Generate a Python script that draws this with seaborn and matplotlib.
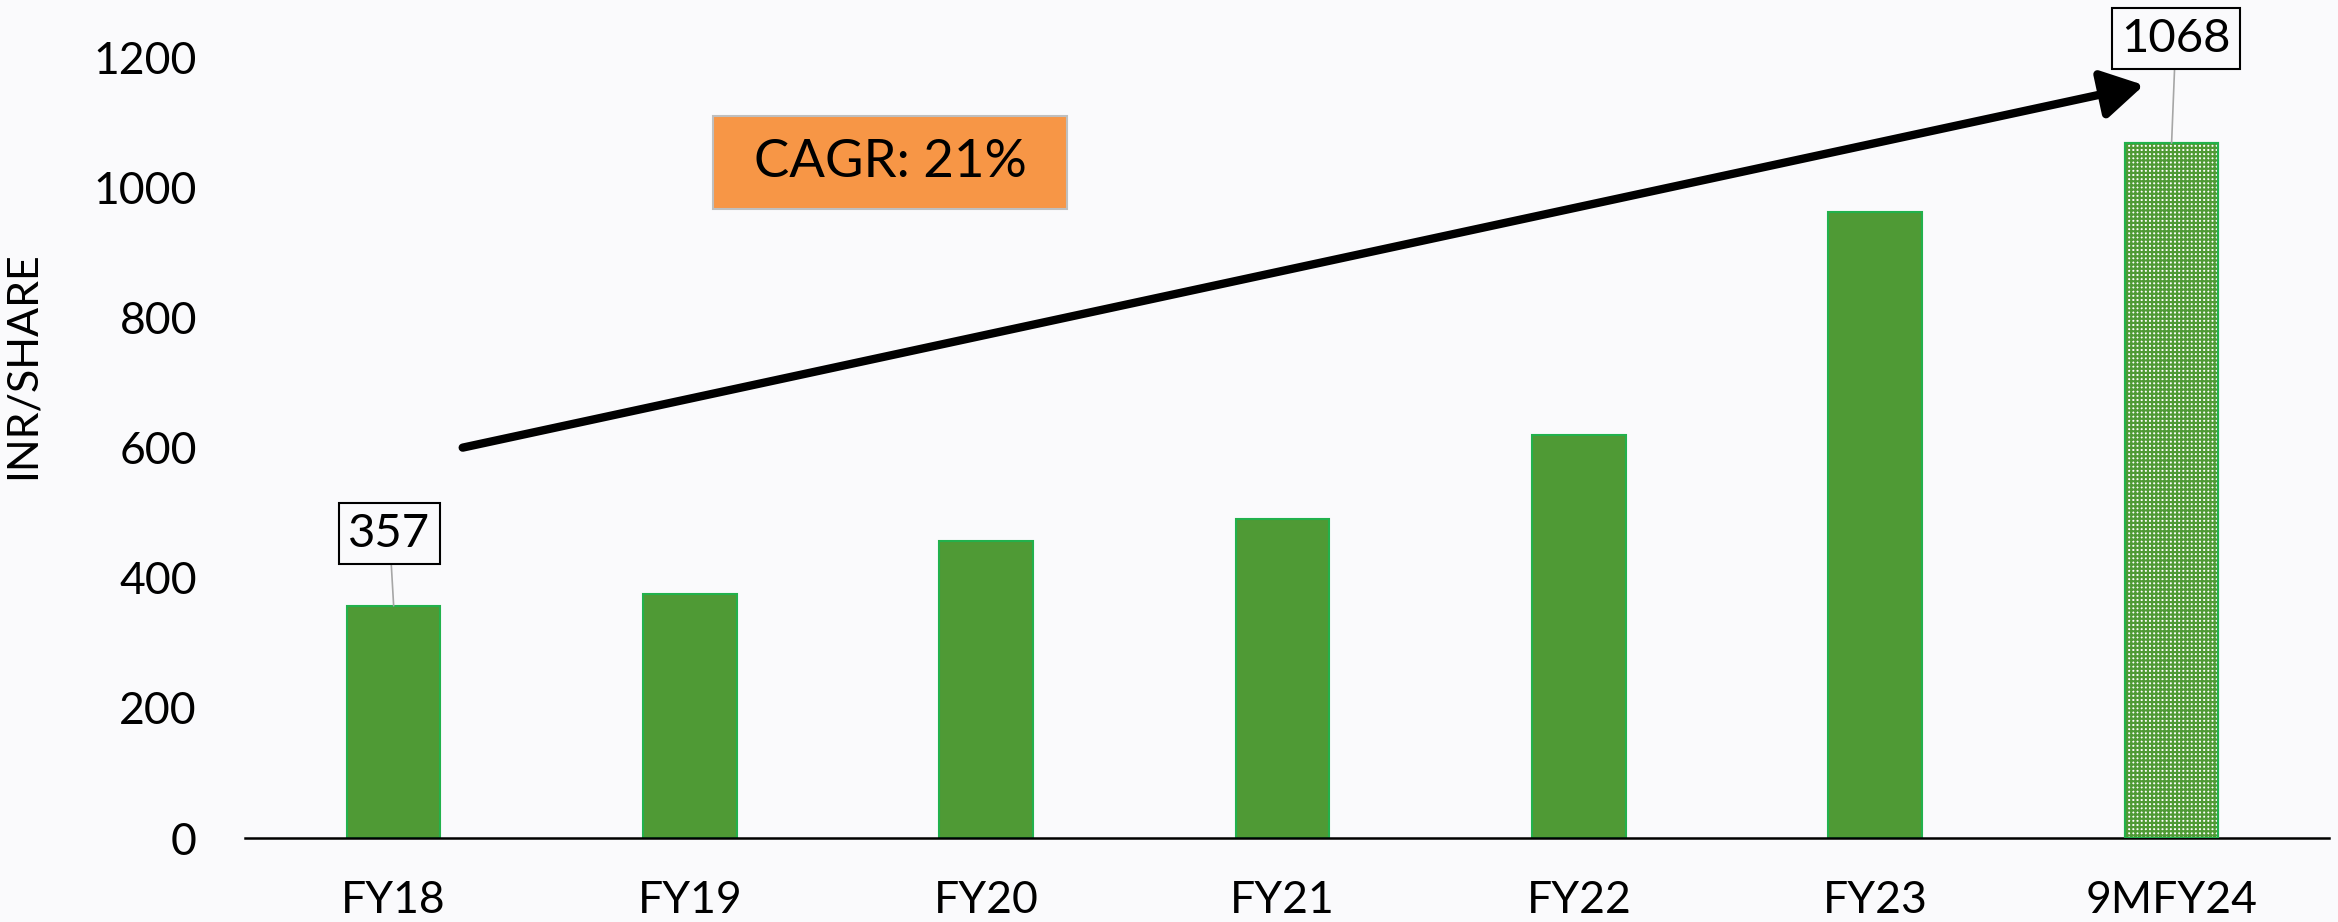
import matplotlib
matplotlib.use("Agg")
import matplotlib.pyplot as plt
from matplotlib.patches import Rectangle
import seaborn as sns
import pandas as pd

# data
categories = ["FY18", "FY19", "FY20", "FY21", "FY22", "FY23", "9MFY24"]
values = [357, 375, 456, 490, 619, 962, 1068]
y_ticks = [0, 200, 400, 600, 800, 1000, 1200]
labelled = {0: "357", 6: "1068"}

bg = "#FAFAFC"
bar_green = "#4F9A35"
edge_green = "#22B14C"

sns.set_theme(style="white")
plt.rcParams["font.family"] = ["Lato", "DejaVu Sans"]
plt.rcParams["text.color"] = "black"
plt.rcParams["hatch.linewidth"] = 1.6

df = pd.DataFrame({"Year": categories, "Value": values})

fig = plt.figure(figsize=(23.38, 9.22), dpi=100, facecolor=bg)
ax = fig.add_axes([0.105, 0.091, 0.891, 0.847])
ax.set_facecolor(bg)

sns.barplot(data=df, x="Year", y="Value", color=bar_green, saturation=1,
            width=0.316, edgecolor=edge_green, linewidth=1.5, ax=ax)

# last bar (9 months) is drawn with a dotted pattern
last = ax.patches[-1]
last.set_facecolor("white")
last.set_edgecolor(bar_green)
last.set_hatch("++++")
ax.add_patch(Rectangle((last.get_x(), last.get_y()), last.get_width(), last.get_height(),
                       fill=False, edgecolor=edge_green, linewidth=1.5, zorder=3))

ax.set_xlim(-0.5, 6.53)
ax.set_ylim(0, 1200)
ax.set_yticks(y_ticks)
ax.tick_params(axis="both", length=0, labelsize=32, colors="black")
ax.tick_params(axis="y", pad=35)
ax.tick_params(axis="x", pad=30)

for s in ["top", "right", "left"]:
    ax.spines[s].set_visible(False)
ax.spines["bottom"].set_color("black")
ax.spines["bottom"].set_linewidth(1.8)

ax.set_xlabel("")
ax.set_ylabel("INR/SHARE", fontsize=31, color="black")
ax.yaxis.set_label_coords(-0.098, 0.606)

# value call-outs
offsets = {0: (-3, 52), 6: (3, 75)}
for i, txt in labelled.items():
    ax.annotate(txt, xy=(i, values[i]), xytext=offsets[i], textcoords="offset points",
                ha="center", va="center", fontsize=34, color="black",
                bbox=dict(boxstyle="square,pad=0.2", fc="none", ec="black", lw=1.5),
                arrowprops=dict(arrowstyle="-", color="#A6A6A6", lw=1.2,
                                shrinkA=0, shrinkB=0),
                annotation_clip=False)

# growth arrow
ax.annotate("", xy=(5.907, 1157), xytext=(0.233, 600),
            arrowprops=dict(arrowstyle="-|>,head_length=0.6,head_width=0.35",
                            color="black", lw=6, mutation_scale=42,
                            shrinkA=0, shrinkB=0))

# CAGR box
fig.patches.append(Rectangle((0.305, 0.773), 0.1514, 0.1009, transform=fig.transFigure,
                             facecolor="#F79646", edgecolor="#BFBFBF", lw=1.5))
fig.text(0.305 + 0.1514 / 2, 0.773 + 0.1009 / 2, "CAGR: 21%", ha="center", va="center",
         fontsize=38, color="black")

fig.savefig("out.png", dpi=100, facecolor=bg)
